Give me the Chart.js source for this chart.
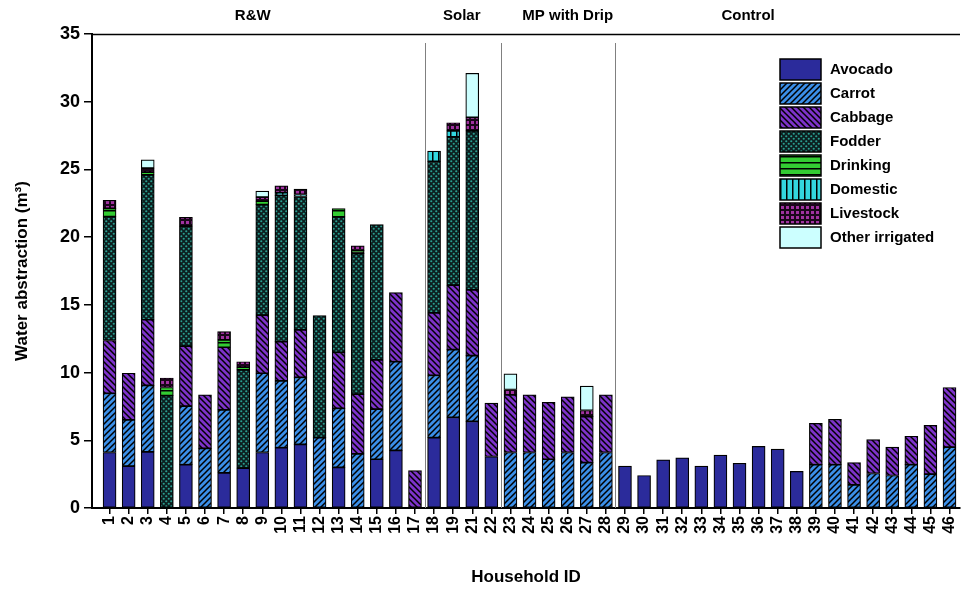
<!DOCTYPE html>
<html>
<head>
<meta charset="utf-8">
<script src="https://cdn.jsdelivr.net/npm/chart.js@4.4.0/dist/chart.umd.min.js"></script>
<style>
html, body { margin: 0; padding: 0; background: #fff; }
</style>
</head>
<body>
<canvas id="myChart" width="962" height="593"></canvas>
<script>
// household ids (there is no household 20)
var householdIds = ['1','2','3','4','5','6','7','8','9','10','11','12','13','14','15','16','17','18','19',
    '21','22','23','24','25','26','27','28','29','30','31','32','33','34','35','36','37','38','39','40',
    '41','42','43','44','45','46'];

var avocado = [4.1,3.1,4.15,0,3.2,0,2.6,2.95,4.1,4.45,4.7,0,3.0,0,3.6,4.25,0,5.2,6.7,6.4,3.8,
    0,0,0,0,0,0, 3.1,2.4,3.55,3.7,3.1,3.9,3.3,4.55,4.35,2.7, 0,0,0,0,0,0,0,0];
var carrot = [4.37,3.4,4.9,0,4.33,4.4,4.64,0,5.85,4.93,4.95,5.2,4.36,4.0,3.7,6.55,0,4.6,5.0,4.85,0,
    4.1,4.1,3.6,4.1,3.35,4.1, 0,0,0,0,0,0,0,0,0,0, 3.2,3.2,1.7,2.55,2.4,3.2,2.5,4.5];
var cabbage = [3.9,3.45,4.85,0,4.43,3.95,4.63,0,4.3,2.9,3.5,0,4.14,4.4,3.63,5.1,2.76,4.6,4.75,4.85,3.95,
    4.25,4.25,4.2,4.1,3.4,4.25, 0,0,0,0,0,0,0,0,0,0, 3.05,3.35,1.65,2.5,2.1,2.1,3.6,4.4];
var fodder = [9.15,0,10.7,8.3,8.85,0,0,7.25,8.15,10.8,9.85,9.0,10.0,10.4,10.0,0,0,11.2,10.95,11.75,0,
    0,0,0,0,0,0, 0,0,0,0,0,0,0,0,0,0, 0,0,0,0,0,0,0,0];
var drinking = [0.6,0,0.2,0.6,0,0,0.55,0.2,0.25,0,0,0,0.6,0.2,0,0,0,0,0,0,0,
    0,0,0,0,0,0, 0,0,0,0,0,0,0,0,0,0, 0,0,0,0,0,0,0,0];
var domestic = [0,0,0,0,0,0,0,0,0,0.2,0.15,0,0,0,0,0,0,0.75,0.45,0,0,
    0,0,0,0,0,0, 0,0,0,0,0,0,0,0,0,0, 0,0,0,0,0,0,0,0];
var livestock = [0.6,0,0.3,0.7,0.65,0,0.6,0.4,0.3,0.5,0.4,0,0,0.35,0,0,0,0,0.6,1.0,0,
    0.4,0,0,0,0.45,0, 0,0,0,0,0,0,0,0,0,0, 0,0,0,0,0,0,0,0];
var otherIrrigated = [0,0,0.6,0,0,0,0,0,0.45,0,0,0,0,0,0,0,0,0,0,3.25,0,
    1.15,0,0,0,1.8,0, 0,0,0,0,0,0,0,0,0,0, 0,0,0,0,0,0,0,0];

var seriesNames = ['Avocado','Carrot','Cabbage','Fodder','Drinking','Domestic','Livestock','Other irrigated'];
var seriesValues = [avocado, carrot, cabbage, fodder, drinking, domestic, livestock, otherIrrigated];

// scheme groups: first household of each group
var sectionNames = ['R&W', 'Solar', 'MP with Drip', 'Control'];
var sectionFirst = ['1', '18', '23', '29'];

var FONT = "'Liberation Sans', Arial, sans-serif";

// fill patterns like the original figure
function makePattern(kind) {
    var c = document.createElement('canvas');
    var g = c.getContext('2d');
    if (kind == 'carrot' || kind == 'cabbage') {
        c.width = 6; c.height = 6;
        g.fillStyle = kind == 'carrot' ? '#3b8fe8' : '#7d33c9';
        g.fillRect(0, 0, 6, 6);
        g.strokeStyle = '#000';
        g.lineWidth = 1.5;
        g.beginPath();
        if (kind == 'carrot') {
            g.moveTo(-1, 7); g.lineTo(7, -1);
            g.moveTo(-1, 1); g.lineTo(1, -1);
            g.moveTo(5, 7); g.lineTo(7, 5);
        } else {
            g.moveTo(-1, -1); g.lineTo(7, 7);
            g.moveTo(5, -1); g.lineTo(7, 1);
            g.moveTo(-1, 5); g.lineTo(1, 7);
        }
        g.stroke();
    } else if (kind == 'fodder') {
        c.width = 5; c.height = 5;
        g.fillStyle = '#0c1f1f';
        g.fillRect(0, 0, 5, 5);
        g.fillStyle = '#2a9d8f';
        g.beginPath(); g.arc(1.25, 1.25, 1.1, 0, Math.PI * 2); g.fill();
        g.beginPath(); g.arc(3.75, 3.75, 1.1, 0, Math.PI * 2); g.fill();
    } else if (kind == 'drinking') {
        c.width = 6; c.height = 6;
        g.fillStyle = '#33cc33';
        g.fillRect(0, 0, 6, 6);
        g.fillStyle = '#000';
        g.fillRect(0, 0, 6, 1.5);
    } else if (kind == 'domestic') {
        c.width = 6; c.height = 6;
        g.fillStyle = '#33d6de';
        g.fillRect(0, 0, 6, 6);
        g.fillStyle = '#000';
        g.fillRect(0, 0, 1.5, 6);
    } else if (kind == 'livestock') {
        c.width = 5; c.height = 5;
        g.fillStyle = '#1a061a';
        g.fillRect(0, 0, 5, 5);
        g.fillStyle = '#a032a0';
        g.fillRect(1, 1, 3, 3);
    }
    return g.createPattern(c, 'repeat');
}

var fills = ['#2b2b9b', makePattern('carrot'), makePattern('cabbage'), makePattern('fodder'),
    makePattern('drinking'), makePattern('domestic'), makePattern('livestock'), '#ccffff'];

var datasets = [];
for (var s = 0; s < seriesNames.length; s++) {
    datasets.push({
        label: seriesNames[s],
        data: seriesValues[s].map(function(v, i) { return { x: i, y: v > 0 ? v : null }; }),
        backgroundColor: fills[s],
        borderColor: '#000',
        borderWidth: 1.2,
        borderSkipped: false,
        barThickness: 13
    });
}

// group separators, group names, top frame and the legend box
var overlayPlugin = {
    id: 'overlay',
    afterDatasetsDraw: function(chart) {
        var ctx = chart.ctx;
        var area = chart.chartArea;
        var xs = chart.scales.x;
        ctx.save();

        // top frame line
        ctx.strokeStyle = '#000';
        ctx.lineWidth = 1.5;
        ctx.beginPath();
        ctx.moveTo(area.left, area.top + 0.5);
        ctx.lineTo(area.right, area.top + 0.5);
        ctx.stroke();

        // separators between groups
        ctx.strokeStyle = '#808080';
        ctx.lineWidth = 1;
        for (var k = 1; k < sectionFirst.length; k++) {
            var px = Math.round(xs.getPixelForValue(householdIds.indexOf(sectionFirst[k]) - 0.5)) + 0.5;
            ctx.beginPath();
            ctx.moveTo(px, area.top + 9);
            ctx.lineTo(px, area.bottom);
            ctx.stroke();
        }

        // group names above the plot
        var nameShift = [7.5, 1.45, 3.0, 6.45];
        ctx.fillStyle = '#000';
        ctx.font = 'bold 15px ' + FONT;
        ctx.textAlign = 'center';
        ctx.textBaseline = 'middle';
        for (var n = 0; n < sectionNames.length; n++) {
            var idx = householdIds.indexOf(sectionFirst[n]) + nameShift[n];
            ctx.fillText(sectionNames[n], xs.getPixelForValue(idx), 16);
        }

        // legend
        ctx.textAlign = 'left';
        for (var i = 0; i < chart.data.datasets.length; i++) {
            var ds = chart.data.datasets[i];
            var top = 59 + i * 24;
            ctx.fillStyle = ds.backgroundColor;
            ctx.fillRect(780, top, 41, 21);
            ctx.strokeStyle = '#000';
            ctx.lineWidth = 1.5;
            ctx.strokeRect(780, top, 41, 21);
            ctx.fillStyle = '#000';
            ctx.fillText(ds.label, 830, top + 11);
        }
        ctx.restore();
    }
};

var myChart = new Chart(document.getElementById('myChart').getContext('2d'), {
    type: 'bar',
    data: { datasets: datasets },
    plugins: [overlayPlugin],
    options: {
        responsive: false,
        animation: false,
        layout: { padding: { top: 34, right: 2, left: 0, bottom: 0 } },
        plugins: {
            legend: { display: false },
            tooltip: { enabled: false }
        },
        scales: {
            x: {
                type: 'linear',
                stacked: true,
                offset: false,
                min: -0.92,
                max: 44.55,
                afterBuildTicks: function(scale) {
                    scale.ticks = householdIds.map(function(l, i) { return { value: i }; });
                },
                afterFit: function(scale) {
                    scale.height = 85;
                    scale.paddingLeft = 0;
                    scale.paddingRight = 0;
                },
                ticks: {
                    autoSkip: false,
                    minRotation: 90,
                    maxRotation: 90,
                    padding: 2,
                    color: '#000',
                    font: { family: FONT, size: 16, weight: 'bold' },
                    callback: function(v) { return householdIds[v]; }
                },
                grid: { drawOnChartArea: false, offset: false, tickLength: 6, color: '#000', lineWidth: 1.5 },
                border: { display: true, color: '#000', width: 2 },
                title: {
                    display: true,
                    text: 'Household ID',
                    color: '#000',
                    font: { family: FONT, size: 17, weight: 'bold' },
                    padding: { top: 0, bottom: 5 }
                }
            },
            y: {
                stacked: true,
                min: 0,
                max: 35,
                afterFit: function(scale) { scale.width = 92; },
                ticks: {
                    stepSize: 5,
                    padding: 4,
                    color: '#000',
                    font: { family: FONT, size: 18, weight: 'bold' }
                },
                grid: { drawOnChartArea: false, tickLength: 8, color: '#000', lineWidth: 1.5 },
                border: { display: true, color: '#000', width: 2 },
                title: {
                    display: true,
                    text: 'Water abstraction (m³)',
                    color: '#000',
                    font: { family: FONT, size: 17, weight: 'bold' },
                    padding: { top: 12, bottom: 0 }
                }
            }
        }
    }
});
</script>
</body>
</html>
